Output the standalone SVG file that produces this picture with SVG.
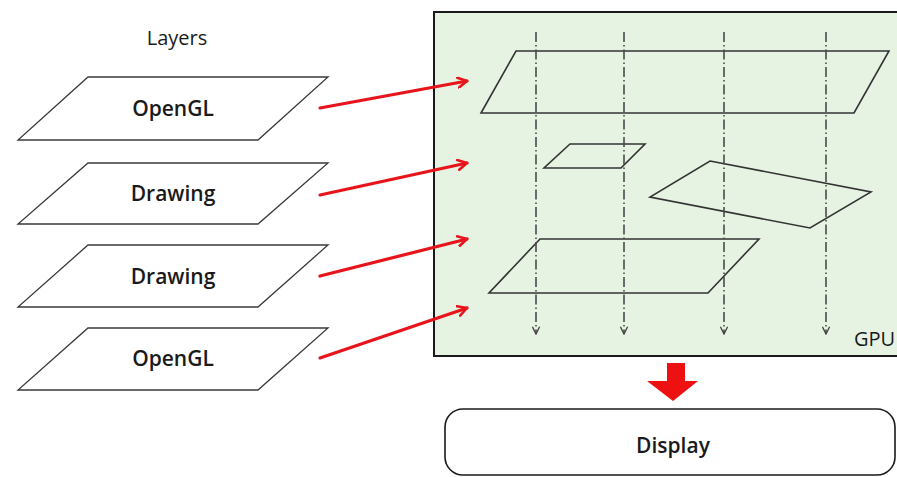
<svg xmlns="http://www.w3.org/2000/svg" width="897" height="477" viewBox="0 0 897 477">
  <defs>
    <style>
      .layer { fill: #ffffff; stroke: #3a3a3a; stroke-width: 1.3; }
      .plane { fill: none; stroke: #333333; stroke-width: 1.6; }
      .label { font-family: "Open Sans", "Liberation Sans", Arial, sans-serif; font-size: 21px; font-weight: 600; fill: #1a1a1a; text-anchor: middle; }
      .title { font-family: "Open Sans", "Liberation Sans", Arial, sans-serif; font-size: 20px; fill: #1a1a1a; text-anchor: middle; }
      .feed { stroke: #e8141b; stroke-width: 3.2; fill: none; stroke-linecap: round; }
      .ray { stroke: #4a4a4a; stroke-width: 1.6; fill: none; stroke-dasharray: 10 3 1.5 3; }
    </style>
    <marker id="chevron" viewBox="0 0 12 12" refX="10" refY="6" markerWidth="12" markerHeight="12" markerUnits="userSpaceOnUse" orient="auto">
      <path d="M1,1 L10,6 L1,11" fill="none" stroke="#e8141b" stroke-width="2.6" stroke-linecap="round" stroke-linejoin="round"/>
    </marker>
    <marker id="tick" viewBox="0 0 10 10" refX="9" refY="5" markerWidth="9" markerHeight="9" markerUnits="userSpaceOnUse" orient="auto">
      <path d="M1,1 L9,5 L1,9" fill="none" stroke="#444444" stroke-width="1.5"/>
    </marker>
  </defs>

  <rect width="897" height="477" fill="#ffffff"/>

  <!-- Layer stack on the left -->
  <text class="title" x="177" y="45">Layers</text>

  <g id="layer-opengl-top">
    <polygon class="layer" points="88,77 328,77 258,140 18,140"/>
    <text class="label" x="173" y="116">OpenGL</text>
  </g>
  <g id="layer-drawing-1">
    <polygon class="layer" points="88,163 328,163 258,224 18,224"/>
    <text class="label" x="173" y="201">Drawing</text>
  </g>
  <g id="layer-drawing-2">
    <polygon class="layer" points="88,245 328,245 258,307 18,307"/>
    <text class="label" x="173" y="284">Drawing</text>
  </g>
  <g id="layer-opengl-bottom">
    <polygon class="layer" points="88,328 328,328 258,390 18,390"/>
    <text class="label" x="173" y="366">OpenGL</text>
  </g>

  <!-- GPU compositing area -->
  <g id="gpu">
    <rect x="434" y="12" width="475" height="344" fill="#e6f2e2" stroke="#1a1a1a" stroke-width="2"/>
    <polygon class="plane" points="516,51 889,51 854,113 481,113"/>
    <polygon class="plane" points="570,144 645,144 621,168 544,168"/>
    <polygon class="plane" points="710,161 871,192 810,228 650,197"/>
    <polygon class="plane" points="540,239 759,239 708,293 489,293"/>
    <text x="854" y="346" font-family="'Open Sans', 'Liberation Sans', Arial, sans-serif" font-size="20" fill="#1a1a1a">GPU</text>
  </g>

  <!-- Display output -->
  <g id="display">
    <rect x="445" y="409" width="450" height="66" rx="18" ry="18" fill="#ffffff" stroke="#1a1a1a" stroke-width="1.6"/>
    <text class="label" x="673" y="453">Display</text>
  </g>

  <!-- Connectors -->
  <g id="connectors">
    <line class="feed" x1="320" y1="108" x2="467" y2="81" marker-end="url(#chevron)"/>
    <line class="feed" x1="320" y1="195" x2="467" y2="163" marker-end="url(#chevron)"/>
    <line class="feed" x1="320" y1="276" x2="467" y2="239" marker-end="url(#chevron)"/>
    <line class="feed" x1="320" y1="358" x2="467" y2="308" marker-end="url(#chevron)"/>

    <line class="ray" x1="536" y1="32" x2="536" y2="334" marker-end="url(#tick)"/>
    <line class="ray" x1="624" y1="32" x2="624" y2="334" marker-end="url(#tick)"/>
    <line class="ray" x1="724" y1="32" x2="724" y2="334" marker-end="url(#tick)"/>
    <line class="ray" x1="826" y1="32" x2="826" y2="334" marker-end="url(#tick)"/>

    <polygon fill="#ee1111" points="667,363 685,363 685,381 698,381 673,401 647,381 667,381"/>
  </g>
</svg>
